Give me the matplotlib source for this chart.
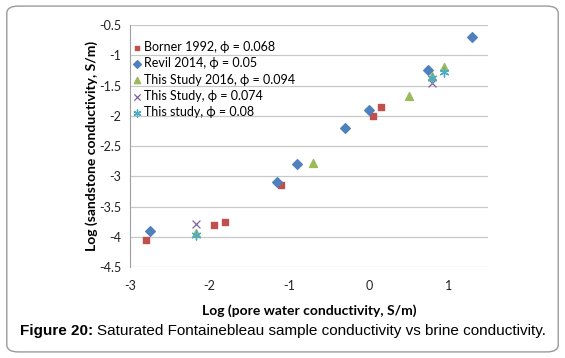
import matplotlib.pyplot as plt
from matplotlib.patches import FancyBboxPatch

# Log pore water conductivity (x) vs log sandstone conductivity (y)
borner_x = [-2.8, -1.95, -1.8, -1.1, 0.05, 0.15]
borner_y = [-4.05, -3.8, -3.75, -3.15, -2.0, -1.85]

revil_x = [-2.75, -1.15, -0.9, -0.3, 0.0, 0.75, 1.3]
revil_y = [-3.9, -3.1, -2.8, -2.2, -1.9, -1.25, -0.7]

study2016_x = [-2.17, -0.7, 0.5, 0.8, 0.95]
study2016_y = [-3.93, -2.78, -1.68, -1.35, -1.2]

study074_x = [-2.17, 0.8]
study074_y = [-3.78, -1.46]

study08_x = [-2.17, 0.8, 0.95]
study08_y = [-3.97, -1.37, -1.27]

labels = ["Borner 1992, ϕ = 0.068", "Revil 2014, ϕ = 0.05",
          "This Study 2016, ϕ = 0.094", "This Study, ϕ = 0.074",
          "This study, ϕ = 0.08"]

plt.rcParams['font.family'] = ['Lato', 'DejaVu Sans']

fig = plt.figure(figsize=(5.65, 3.58), dpi=100)
ax = fig.add_axes([0.230, 0.254, 0.634, 0.676])

# rounded frame around the whole figure
fig.patches.append(FancyBboxPatch((0.012, 0.017), 0.976, 0.966,
                                  boxstyle="round,pad=0,rounding_size=0.02",
                                  transform=fig.transFigure, fill=False,
                                  edgecolor="#9a9a9a", linewidth=1.0))

ax.scatter(borner_x, borner_y, marker="s", s=20, color="#C0504D", label=labels[0], zorder=3)
ax.scatter(revil_x, revil_y, marker="D", s=24, color="#4F81BD", label=labels[1], zorder=3)
ax.scatter(study2016_x, study2016_y, marker="^", s=32, color="#9BBB59", label=labels[2], zorder=3)
ax.scatter(study074_x, study074_y, marker="x", s=32, color="#8064A2", linewidths=0.9,
           label=labels[3], zorder=4)
ax.scatter(study08_x, study08_y, marker=(6, 2, 0), s=40, color="#4BACC6", linewidths=1.0,
           label=labels[4], zorder=4)

ax.set_xlim(-3, 1.5)
ax.set_ylim(-4.5, -0.5)
ax.set_xticks([-3, -2, -1, 0, 1])
ax.set_xticklabels(["-3", "-2", "-1", "0", "1"])
yt = [-4.5, -4, -3.5, -3, -2.5, -2, -1.5, -1, -0.5]
ax.set_yticks(yt)
ax.set_yticklabels([f"{v:g}" for v in yt])
ax.grid(axis="y", color="#c8c8c8", linewidth=0.9)
ax.set_axisbelow(True)
for s in ["top", "right", "bottom"]:
    ax.spines[s].set_visible(False)
ax.spines["left"].set_color("#a0a0a0")
ax.tick_params(length=0, labelsize=9, colors="#222222")
ax.tick_params(axis="y", pad=6)
ax.tick_params(axis="x", pad=9)

ax.set_xlabel("Log (pore water conductivity, S/m)", fontsize=10, fontweight="bold", labelpad=9)
ax.set_ylabel("Log (sandstone conductivity, S/m)", fontsize=10, fontweight="bold", labelpad=1)

ax.legend(loc="upper left", bbox_to_anchor=(-0.005, 0.955), frameon=False, fontsize=9,
          handlelength=0.6, handletextpad=0.3, labelspacing=0.35, borderaxespad=0,
          markerscale=0.8)

# caption: bold "Figure 20:" followed by normal text
cap1 = fig.text(0.035, 0.075, "Figure 20:", fontsize=11, fontweight="bold",
                family="Liberation Sans", va="center")
fig.canvas.draw()
bb = cap1.get_window_extent().transformed(fig.transFigure.inverted())
fig.text(bb.x1 + 0.007, 0.075, "Saturated Fontainebleau sample conductivity vs brine conductivity.",
         fontsize=11, family="Liberation Sans", va="center")

fig.savefig("out.png", dpi=100)
